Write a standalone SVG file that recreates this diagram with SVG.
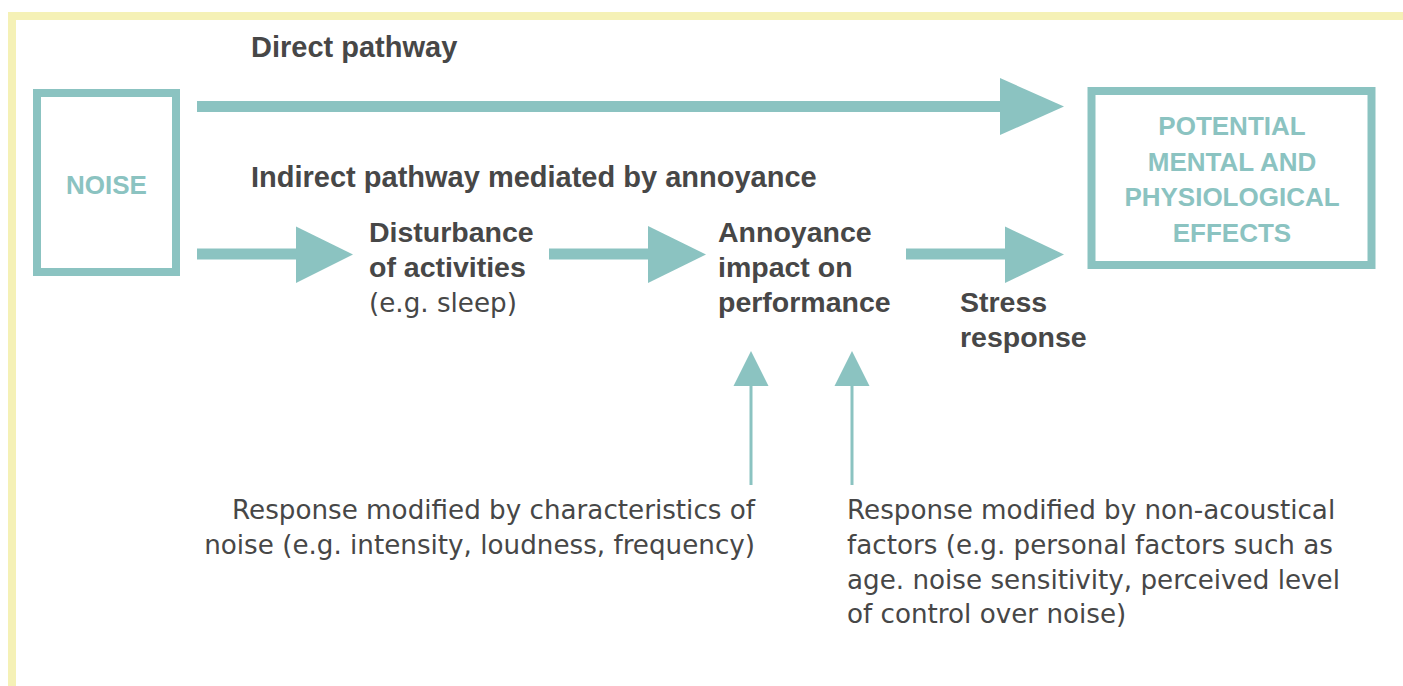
<svg xmlns="http://www.w3.org/2000/svg" width="1403" height="686" viewBox="0 0 1403 686">
  <style>
    .frame { fill: none; stroke: #f5f1b6; stroke-width: 8; }
    .box { fill: #ffffff; stroke: #8bc3c1; stroke-width: 8; }
    .shaft { stroke: #8bc3c1; stroke-width: 11; fill: none; }
    .thin { stroke: #8bc3c1; stroke-width: 3; fill: none; }
    .head { fill: #8bc3c1; }
    .boxtxt { font-family: "Liberation Sans", Arial, sans-serif; font-weight: bold; font-size: 26px; fill: #8bc3c1; text-anchor: middle; }
    .bold { font-family: "Liberation Sans", Arial, sans-serif; font-weight: bold; font-size: 29px; fill: #474747; }
    .lbl { font-family: "Liberation Sans", Arial, sans-serif; font-weight: bold; font-size: 28.5px; fill: #474747; }
    .reg { font-family: "DejaVu Sans", "Liberation Sans", sans-serif; font-size: 26.2px; fill: #474747; }
  </style>
  <rect class="frame" x="12" y="16" width="1500" height="800"/>

  <g id="connectors">
    <line class="shaft" x1="197" y1="106.5" x2="1001" y2="106.5"/>
    <polygon class="head" points="1000,78 1064,106.5 1000,135"/>
    <line class="shaft" x1="197" y1="254" x2="297" y2="254"/>
    <polygon class="head" points="296,226.5 353,254.5 296,283"/>
    <line class="shaft" x1="549" y1="254" x2="649" y2="254"/>
    <polygon class="head" points="648,226 706,254.5 648,283"/>
    <line class="shaft" x1="906" y1="254" x2="1006" y2="254"/>
    <polygon class="head" points="1005,226.5 1064,254.5 1005,283"/>
    <line class="thin" x1="751" y1="485" x2="751" y2="385"/>
    <polygon class="head" points="733.5,386 751,351 768.5,386"/>
    <line class="thin" x1="852" y1="485" x2="852" y2="385"/>
    <polygon class="head" points="834.5,386 852,351 869.5,386"/>
  </g>

  <g id="noise">
    <rect class="box" x="37" y="93" width="139" height="179"/>
    <text class="boxtxt" x="106.5" y="194">NOISE</text>
  </g>

  <g id="effects">
    <rect class="box" x="1091.5" y="91" width="280" height="174"/>
    <text class="boxtxt" x="1232" y="135">POTENTIAL</text>
    <text class="boxtxt" x="1232" y="170.5">MENTAL AND</text>
    <text class="boxtxt" x="1232" y="206">PHYSIOLOGICAL</text>
    <text class="boxtxt" x="1232" y="241.5">EFFECTS</text>
  </g>

  <g id="direct-label">
    <text class="bold" x="251" y="57">Direct pathway</text>
  </g>
  <g id="indirect-label">
    <text class="bold" x="251" y="187">Indirect pathway mediated by annoyance</text>
  </g>

  <g id="disturbance">
    <text class="lbl" x="369" y="242">Disturbance</text>
    <text class="lbl" x="369" y="277">of activities</text>
    <text class="reg" x="369" y="312">(e.g. sleep)</text>
  </g>

  <g id="annoyance">
    <text class="lbl" x="718" y="242">Annoyance</text>
    <text class="lbl" x="718" y="277">impact on</text>
    <text class="lbl" x="718" y="312">performance</text>
  </g>

  <g id="stress">
    <text class="lbl" x="960" y="312">Stress</text>
    <text class="lbl" x="960" y="347">response</text>
  </g>

  <g id="noise-characteristics">
    <text class="reg" x="755" y="519" text-anchor="end">Response modified by characteristics of</text>
    <text class="reg" x="755" y="554" text-anchor="end">noise (e.g. intensity, loudness, frequency)</text>
  </g>

  <g id="non-acoustical">
    <text class="reg" x="847" y="519">Response modified by non-acoustical</text>
    <text class="reg" x="847" y="554">factors (e.g. personal factors such as</text>
    <text class="reg" x="847" y="588.5">age. noise sensitivity, perceived level</text>
    <text class="reg" x="847" y="623">of control over noise)</text>
  </g>
</svg>
